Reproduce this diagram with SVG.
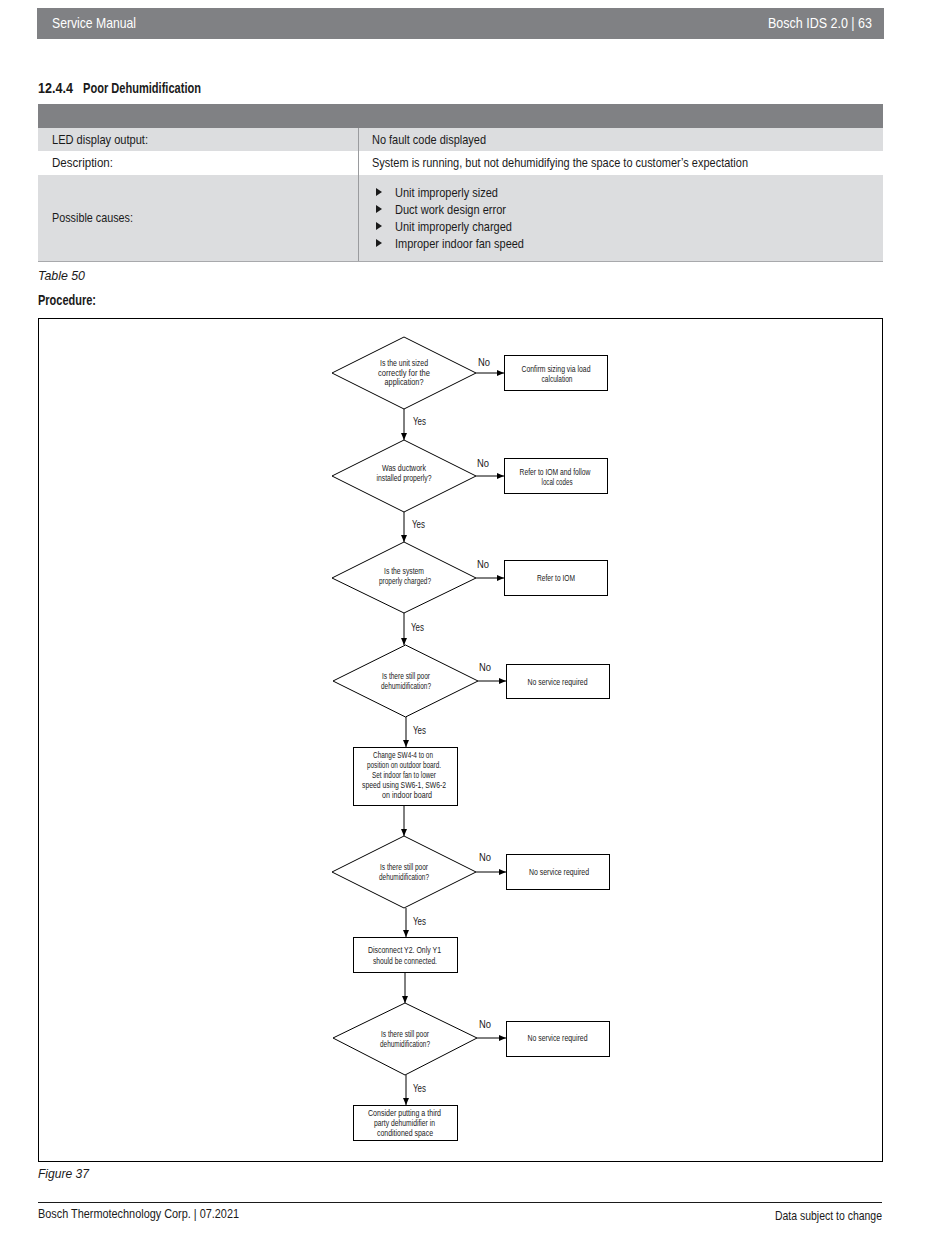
<svg xmlns="http://www.w3.org/2000/svg" width="950" height="1241" viewBox="0 0 950 1241">
<style>
text{font-family:"Liberation Sans Narrow","Liberation Sans",Arial,sans-serif;fill:#1a1a1a}
.hd{fill:#fff;font-size:14.5px}
.tb{font-size:13.5px}
.b{font-weight:bold;font-size:15px}
.it{font-style:italic;font-size:13px}
.ft{font-size:13px}
.fc{font-size:9px;text-anchor:middle}
.yn{font-size:11px}
.shape{fill:#fff;stroke:#000;stroke-width:1}
.con{fill:none;stroke:#000;stroke-width:1}
</style>
<defs>
<marker id="ah" markerWidth="8" markerHeight="8" refX="7" refY="4" orient="auto" markerUnits="userSpaceOnUse">
<path d="M0,1 L7,4 L0,7 Z" fill="#000"/>
</marker>
</defs>
<rect width="950" height="1241" fill="#fff"/>
<!-- header -->
<rect x="37" y="8" width="847" height="31" fill="#808184"/>
<text class="hd" x="52" y="28" textLength="84" lengthAdjust="spacingAndGlyphs">Service Manual</text>
<text class="hd" x="768" y="28" textLength="104" lengthAdjust="spacingAndGlyphs">Bosch IDS 2.0 | 63</text>
<text class="b" x="38" y="93" textLength="35" lengthAdjust="spacingAndGlyphs">12.4.4</text>
<text class="b" x="83" y="93" textLength="118" lengthAdjust="spacingAndGlyphs">Poor Dehumidification</text>
<!-- table -->
<rect x="38" y="104" width="845" height="24" fill="#808184"/>
<rect x="38" y="128" width="845" height="23" fill="#dcdddf"/>
<rect x="38" y="151" width="845" height="24" fill="#fff"/>
<rect x="38" y="175" width="845" height="86" fill="#dcdddf"/>
<line x1="358.5" y1="128" x2="358.5" y2="261" stroke="#9a9b9e" stroke-width="1"/>
<line x1="38" y1="261.5" x2="883" y2="261.5" stroke="#a8a9ac" stroke-width="1"/>
<text class="tb" x="52" y="144" textLength="96" lengthAdjust="spacingAndGlyphs">LED display output:</text>
<text class="tb" x="372" y="144" textLength="114" lengthAdjust="spacingAndGlyphs">No fault code displayed</text>
<text class="tb" x="52" y="167" textLength="61" lengthAdjust="spacingAndGlyphs">Description:</text>
<text class="tb" x="372" y="167" textLength="376" lengthAdjust="spacingAndGlyphs">System is running, but not dehumidifying the space to customer’s expectation</text>
<text class="tb" x="52" y="222" textLength="81" lengthAdjust="spacingAndGlyphs">Possible causes:</text>
<path d="M376,188 L382,192 L376,196 Z M376,205 L382,209 L376,213 Z M376,222 L382,226 L376,230 Z M376,239 L382,243 L376,247 Z" fill="#1a1a1a"/>
<text class="tb" x="395" y="197" textLength="103" lengthAdjust="spacingAndGlyphs">Unit improperly sized</text>
<text class="tb" x="395" y="214" textLength="111" lengthAdjust="spacingAndGlyphs">Duct work design error</text>
<text class="tb" x="395" y="231" textLength="117" lengthAdjust="spacingAndGlyphs">Unit improperly charged</text>
<text class="tb" x="395" y="248" textLength="129" lengthAdjust="spacingAndGlyphs">Improper indoor fan speed</text>
<text class="it" x="38" y="280" textLength="47" lengthAdjust="spacingAndGlyphs">Table 50</text>
<text class="b" x="38" y="305" textLength="58" lengthAdjust="spacingAndGlyphs">Procedure:</text>
<!-- frame -->
<rect x="38.5" y="318.5" width="844" height="843" fill="none" stroke="#000" stroke-width="1"/>
<!-- connectors -->
<g id="connectors">
<line class="con" x1="476" y1="373" x2="504" y2="373" marker-end="url(#ah)"/>
<line class="con" x1="404" y1="409" x2="404" y2="440" marker-end="url(#ah)"/>
<line class="con" x1="476" y1="476" x2="504" y2="476" marker-end="url(#ah)"/>
<line class="con" x1="404" y1="512" x2="404" y2="542" marker-end="url(#ah)"/>
<line class="con" x1="476" y1="578" x2="504" y2="578" marker-end="url(#ah)"/>
<line class="con" x1="404" y1="613" x2="404" y2="645" marker-end="url(#ah)"/>
<line class="con" x1="478" y1="681" x2="506" y2="681" marker-end="url(#ah)"/>
<line class="con" x1="406" y1="717" x2="406" y2="747" marker-end="url(#ah)"/>
<line class="con" x1="404" y1="805" x2="404" y2="836" marker-end="url(#ah)"/>
<line class="con" x1="476" y1="872" x2="506" y2="872" marker-end="url(#ah)"/>
<line class="con" x1="406" y1="908" x2="406" y2="937" marker-end="url(#ah)"/>
<line class="con" x1="405" y1="973" x2="405" y2="1003" marker-end="url(#ah)"/>
<line class="con" x1="477" y1="1038" x2="506" y2="1038" marker-end="url(#ah)"/>
<line class="con" x1="406" y1="1075" x2="406" y2="1105" marker-end="url(#ah)"/>
<text class="yn" x="478" y="366" textLength="12" lengthAdjust="spacingAndGlyphs">No</text>
<text class="yn" x="413" y="425" textLength="13" lengthAdjust="spacingAndGlyphs">Yes</text>
<text class="yn" x="477" y="467" textLength="12" lengthAdjust="spacingAndGlyphs">No</text>
<text class="yn" x="412" y="528" textLength="13" lengthAdjust="spacingAndGlyphs">Yes</text>
<text class="yn" x="477" y="568" textLength="12" lengthAdjust="spacingAndGlyphs">No</text>
<text class="yn" x="411" y="631" textLength="13" lengthAdjust="spacingAndGlyphs">Yes</text>
<text class="yn" x="479" y="671" textLength="12" lengthAdjust="spacingAndGlyphs">No</text>
<text class="yn" x="413" y="734" textLength="13" lengthAdjust="spacingAndGlyphs">Yes</text>
<text class="yn" x="479" y="861" textLength="12" lengthAdjust="spacingAndGlyphs">No</text>
<text class="yn" x="413" y="925" textLength="13" lengthAdjust="spacingAndGlyphs">Yes</text>
<text class="yn" x="479" y="1028" textLength="12" lengthAdjust="spacingAndGlyphs">No</text>
<text class="yn" x="413" y="1092" textLength="13" lengthAdjust="spacingAndGlyphs">Yes</text>
</g>
<!-- nodes -->
<g id="d1">
<polygon class="shape" points="404,337 476,373 404,409 332,373"/>
<text class="fc" x="404" y="366" textLength="48" lengthAdjust="spacingAndGlyphs">Is the unit sized</text>
<text class="fc" x="404" y="375.5" textLength="52" lengthAdjust="spacingAndGlyphs">correctly for the</text>
<text class="fc" x="404" y="385" textLength="39" lengthAdjust="spacingAndGlyphs">application?</text>
</g>
<g id="b1">
<rect class="shape" x="504.5" y="355.5" width="103" height="35"/>
<text class="fc" x="556" y="372" textLength="69" lengthAdjust="spacingAndGlyphs">Confirm sizing via load</text>
<text class="fc" x="557" y="382" textLength="31" lengthAdjust="spacingAndGlyphs">calculation</text>
</g>
<g id="d2">
<polygon class="shape" points="404,440 476,476 404,512 332,476"/>
<text class="fc" x="404" y="471" textLength="44" lengthAdjust="spacingAndGlyphs">Was ductwork</text>
<text class="fc" x="404" y="481" textLength="55" lengthAdjust="spacingAndGlyphs">installed properly?</text>
</g>
<g id="b2">
<rect class="shape" x="504.5" y="458.5" width="103" height="35"/>
<text class="fc" x="555" y="475" textLength="71" lengthAdjust="spacingAndGlyphs">Refer to IOM and follow</text>
<text class="fc" x="557" y="485" textLength="31" lengthAdjust="spacingAndGlyphs">local codes</text>
</g>
<g id="d3">
<polygon class="shape" points="404,542 476,578 404,613 332,578"/>
<text class="fc" x="404" y="574" textLength="40" lengthAdjust="spacingAndGlyphs">Is the system</text>
<text class="fc" x="405" y="584" textLength="52" lengthAdjust="spacingAndGlyphs">properly charged?</text>
</g>
<g id="b3">
<rect class="shape" x="504.5" y="560.5" width="103" height="35"/>
<text class="fc" x="556" y="581" textLength="38" lengthAdjust="spacingAndGlyphs">Refer to IOM</text>
</g>
<g id="d4">
<polygon class="shape" points="405.5,645 478,681 405.5,717 333,681"/>
<text class="fc" x="406" y="679" textLength="48" lengthAdjust="spacingAndGlyphs">Is there still poor</text>
<text class="fc" x="406" y="689" textLength="50" lengthAdjust="spacingAndGlyphs">dehumidification?</text>
</g>
<g id="b4">
<rect class="shape" x="506.5" y="664.5" width="103" height="34"/>
<text class="fc" x="557.5" y="685" textLength="60" lengthAdjust="spacingAndGlyphs">No service required</text>
</g>
<g id="b5">
<rect class="shape" x="353.5" y="747.5" width="104" height="58"/>
<text class="fc" x="403" y="758" textLength="60" lengthAdjust="spacingAndGlyphs">Change SW4-4 to on</text>
<text class="fc" x="404" y="768" textLength="74" lengthAdjust="spacingAndGlyphs">position on outdoor board.</text>
<text class="fc" x="404" y="777.5" textLength="64" lengthAdjust="spacingAndGlyphs">Set indoor fan to lower</text>
<text class="fc" x="404" y="787.5" textLength="84" lengthAdjust="spacingAndGlyphs">speed using SW6-1, SW6-2</text>
<text class="fc" x="407" y="797.5" textLength="50" lengthAdjust="spacingAndGlyphs">on indoor board</text>
</g>
<g id="d5">
<polygon class="shape" points="404,836 476,872 404,908 332,872"/>
<text class="fc" x="404" y="870" textLength="48" lengthAdjust="spacingAndGlyphs">Is there still poor</text>
<text class="fc" x="404" y="880" textLength="50" lengthAdjust="spacingAndGlyphs">dehumidification?</text>
</g>
<g id="b6">
<rect class="shape" x="506.5" y="854.5" width="103" height="35"/>
<text class="fc" x="559" y="875" textLength="60" lengthAdjust="spacingAndGlyphs">No service required</text>
</g>
<g id="b7">
<rect class="shape" x="353.5" y="937.5" width="104" height="35"/>
<text class="fc" x="404.5" y="953" textLength="73" lengthAdjust="spacingAndGlyphs">Disconnect Y2. Only Y1</text>
<text class="fc" x="405" y="964" textLength="64" lengthAdjust="spacingAndGlyphs">should be connected.</text>
</g>
<g id="d6">
<polygon class="shape" points="405,1003 477,1038 405,1075 333,1038"/>
<text class="fc" x="405" y="1037" textLength="48" lengthAdjust="spacingAndGlyphs">Is there still poor</text>
<text class="fc" x="405" y="1046.5" textLength="50" lengthAdjust="spacingAndGlyphs">dehumidification?</text>
</g>
<g id="b8">
<rect class="shape" x="506.5" y="1021.5" width="103" height="35"/>
<text class="fc" x="557.5" y="1041" textLength="60" lengthAdjust="spacingAndGlyphs">No service required</text>
</g>
<g id="b9">
<rect class="shape" x="353.5" y="1105.5" width="104" height="35"/>
<text class="fc" x="404.5" y="1116" textLength="73" lengthAdjust="spacingAndGlyphs">Consider putting a third</text>
<text class="fc" x="404.5" y="1126" textLength="61" lengthAdjust="spacingAndGlyphs">party dehumidifier in</text>
<text class="fc" x="405" y="1136" textLength="56" lengthAdjust="spacingAndGlyphs">conditioned space</text>
</g>
<!-- footer -->
<text class="it" x="38" y="1178" textLength="51" lengthAdjust="spacingAndGlyphs">Figure 37</text>
<line x1="38" y1="1202.5" x2="882" y2="1202.5" stroke="#1a1a1a" stroke-width="1"/>
<text class="ft" x="38" y="1218" textLength="201" lengthAdjust="spacingAndGlyphs">Bosch Thermotechnology Corp. | 07.2021</text>
<text class="ft" x="775" y="1220" textLength="107" lengthAdjust="spacingAndGlyphs">Data subject to change</text>
</svg>
